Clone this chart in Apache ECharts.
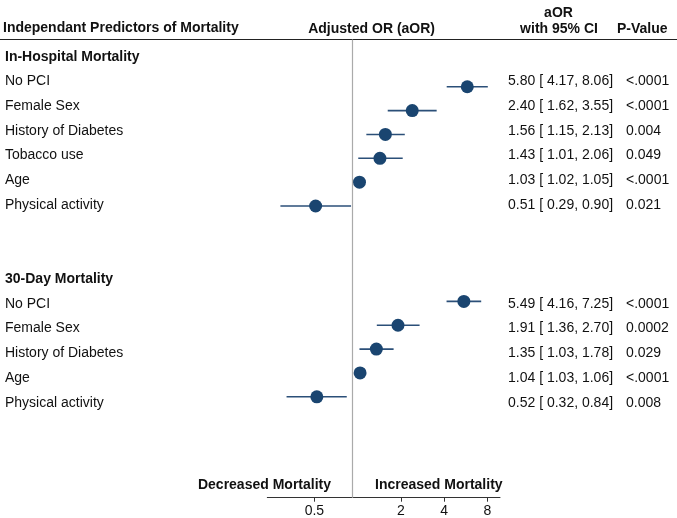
<!DOCTYPE html>
<html>
<head>
<meta charset="utf-8">
<script src="https://cdn.jsdelivr.net/npm/echarts@6/dist/echarts.min.js"></script>
<style>
  html, body { margin: 0; padding: 0; background: #fff; }
  #chart { width: 677px; height: 518px; }
</style>
</head>
<body>
<div id="chart"></div>
<script>
// ---- Data ----
const sectionTitles = ['In-Hospital Mortality', '30-Day Mortality'];

const inHospPredictors = ['No PCI', 'Female Sex', 'History of Diabetes', 'Tobacco use', 'Age', 'Physical activity'];
const inHospAOR   = [5.80, 2.40, 1.56, 1.43, 1.03, 0.51];
const inHospLower = [4.17, 1.62, 1.15, 1.01, 1.02, 0.29];
const inHospUpper = [8.06, 3.55, 2.13, 2.06, 1.05, 0.90];
const inHospP     = ['<.0001', '<.0001', '0.004', '0.049', '<.0001', '0.021'];

const day30Predictors = ['No PCI', 'Female Sex', 'History of Diabetes', 'Age', 'Physical activity'];
const day30AOR   = [5.49, 1.91, 1.35, 1.04, 0.52];
const day30Lower = [4.16, 1.36, 1.03, 1.03, 0.32];
const day30Upper = [7.25, 2.70, 1.78, 1.06, 0.84];
const day30P     = ['<.0001', '0.0002', '0.029', '<.0001', '0.008'];

const xTickValues = [0.5, 2, 4, 8];
const nullLineValue = 0.92;

// ---- Build rows (header, predictors, blank gap, header, predictors) ----
const rows = [];
function addSection(title, preds, aor, lo, hi, p) {
  rows.push({ label: title, header: true });
  preds.forEach((name, i) => rows.push({ label: name, header: false, aor: aor[i], lo: lo[i], hi: hi[i], p: p[i] }));
}
addSection(sectionTitles[0], inHospPredictors, inHospAOR, inHospLower, inHospUpper, inHospP);
rows.push({ label: '', header: false });
rows.push({ label: '', header: false });
addSection(sectionTitles[1], day30Predictors, day30AOR, day30Lower, day30Upper, day30P);

const rowIds = rows.map((r, i) => String(i));
const pointData = [];
const ciData = [];
rows.forEach((r, i) => {
  if (r.aor !== undefined) {
    pointData.push([r.aor, i]);
    ciData.push([r.lo, r.hi, i]);
  }
});

const navy = '#1a4570';
const textColor = '#111';
const fontFamily = '"Liberation Sans", Arial, Helvetica, sans-serif';

const chart = echarts.init(document.getElementById('chart'), null, { renderer: 'canvas' });

const option = {
  backgroundColor: '#fff',
  animation: false,
  textStyle: { fontFamily: fontFamily, color: textColor },
  grid: [
    { left: 267.3, right: 177, top: 39.5, bottom: 20.3 },
    { left: 5, right: 169, top: 44.35, bottom: 103 }
  ],
  xAxis: [
    {
      gridIndex: 0,
      type: 'log',
      logBase: 2,
      min: 0.235,
      max: 9.8,
      position: 'bottom',
      axisLine: { show: true, onZero: false, lineStyle: { color: '#333', width: 1 } },
      axisTick: { show: true, length: 4, lineStyle: { color: '#333' }, customValues: xTickValues },
      axisLabel: {
        show: true, margin: 6, fontSize: 14, color: textColor, fontFamily: fontFamily,
        customValues: xTickValues,
        formatter: v => String(v)
      },
      splitLine: { show: false },
      minorTick: { show: false }
    },
    { gridIndex: 1, type: 'value', show: false, min: 0, max: 1 }
  ],
  yAxis: [
    { gridIndex: 0, type: 'value', inverse: true, min: -0.98, max: 18.23, show: false },
    {
      gridIndex: 1, type: 'category', inverse: true, position: 'left', data: rowIds,
      axisLine: { show: false }, axisTick: { show: false }, splitLine: { show: false },
      axisLabel: {
        show: true, margin: 0, align: 'left', interval: 0, fontSize: 14, color: textColor,
        fontFamily: fontFamily,
        formatter: (v) => {
          const r = rows[Number(v)];
          if (!r || !r.label) return '';
          return r.header ? '{h|' + r.label + '}' : '{n|' + r.label + '}';
        },
        rich: {
          h: { fontWeight: 'bold', fontSize: 14, color: textColor, fontFamily: fontFamily },
          n: { fontSize: 14, color: textColor, fontFamily: fontFamily }
        }
      }
    },
    {
      gridIndex: 1, type: 'category', inverse: true, position: 'right', data: rowIds,
      axisLine: { show: false }, axisTick: { show: false }, splitLine: { show: false },
      axisLabel: {
        show: true, margin: 0, align: 'left', interval: 0, fontSize: 14, color: textColor,
        fontFamily: fontFamily,
        formatter: (v) => {
          const r = rows[Number(v)];
          if (!r || r.aor === undefined) return '';
          const s = r.aor.toFixed(2) + ' [ ' + r.lo.toFixed(2) + ', ' + r.hi.toFixed(2) + ']';
          return '{a|' + s + '}{p|' + r.p + '}';
        },
        rich: {
          a: { width: 118, fontSize: 14, color: textColor, fontFamily: fontFamily },
          p: { fontSize: 14, color: textColor, fontFamily: fontFamily }
        }
      }
    }
  ],
  graphic: [
    { type: 'line', shape: { x1: 0, y1: 39.5, x2: 677, y2: 39.5 }, style: { stroke: '#222', lineWidth: 1.2 }, silent: true },
    { type: 'text', left: 3, top: 21, style: { text: 'Independant Predictors of Mortality', font: 'bold 14px ' + fontFamily, fill: textColor } },
    { type: 'text', x: 371.6, y: 29, style: { text: 'Adjusted OR (aOR)', font: 'bold 14px ' + fontFamily, fill: textColor, textAlign: 'center', textVerticalAlign: 'middle' } },
    { type: 'text', x: 558.5, y: 12.8, style: { text: 'aOR', font: 'bold 14px ' + fontFamily, fill: textColor, textAlign: 'center', textVerticalAlign: 'middle' } },
    { type: 'text', x: 559, y: 29, style: { text: 'with 95% CI', font: 'bold 14px ' + fontFamily, fill: textColor, textAlign: 'center', textVerticalAlign: 'middle' } },
    { type: 'text', x: 617, y: 29, style: { text: 'P-Value', font: 'bold 14px ' + fontFamily, fill: textColor, textAlign: 'left', textVerticalAlign: 'middle' } },
    { type: 'text', x: 331, y: 485, style: { text: 'Decreased Mortality', font: 'bold 14px ' + fontFamily, fill: textColor, textAlign: 'right', textVerticalAlign: 'middle' } },
    { type: 'text', x: 375, y: 485, style: { text: 'Increased Mortality', font: 'bold 14px ' + fontFamily, fill: textColor, textAlign: 'left', textVerticalAlign: 'middle' } }
  ],
  series: [
    {
      type: 'custom',
      xAxisIndex: 0, yAxisIndex: 0,
      data: ciData,
      encode: { x: [0, 1], y: 2 },
      renderItem: (params, api) => {
        const y = api.value(2);
        const p1 = api.coord([api.value(0), y]);
        const p2 = api.coord([api.value(1), y]);
        return {
          type: 'line',
          shape: { x1: p1[0], y1: p1[1], x2: p2[0], y2: p2[1] },
          style: { stroke: '#2b4f78', lineWidth: 1.6 }
        };
      },
      z: 2,
      silent: true
    },
    {
      type: 'scatter',
      xAxisIndex: 0, yAxisIndex: 0,
      data: pointData,
      symbol: 'circle',
      symbolSize: 13,
      itemStyle: { color: navy, opacity: 1 },
      z: 3,
      silent: true,
      markLine: {
        silent: true,
        symbol: ['none', 'none'],
        label: { show: false },
        lineStyle: { color: '#aaa', width: 1.2, type: 'solid' },
        data: [{ xAxis: nullLineValue }]
      }
    }
  ]
};

chart.setOption(option);
</script>
</body>
</html>
